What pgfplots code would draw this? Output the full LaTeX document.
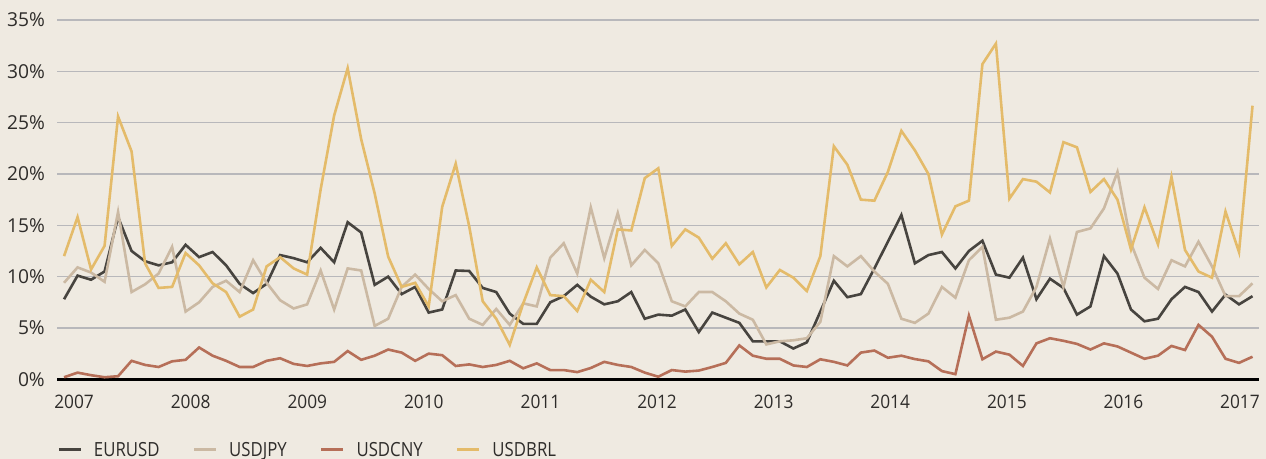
\documentclass[border=0pt]{standalone}
\usepackage{fontspec}
\setmainfont{Open Sans}
\newfontfamily\condfont{Open Sans}[FakeStretch=0.93]
\newfontfamily\legfont{Open Sans}[FakeStretch=0.86]
\usepackage{pgfplots}
\pgfplotsset{compat=1.18}
\usepackage{pgfplotstable}
\definecolor{bgc}{HTML}{EFEAE1}
\definecolor{gridc}{HTML}{B8B8BB}
\definecolor{eurc}{HTML}{47443F}
\definecolor{jpyc}{HTML}{CBB9A3}
\definecolor{cnyc}{HTML}{B66F58}
\definecolor{brlc}{HTML}{E4BB6A}
\definecolor{txtc}{HTML}{2E2C2A}

\pgfplotstableread{
i eur jpy cny brl
0 7.8 9.4 0.2 12.0
1 10.1 10.9 0.65 15.8
2 9.7 10.4 0.4 10.7
3 10.5 9.5 0.2 13.0
4 15.8 16.3 0.3 25.6
5 12.5 8.5 1.8 22.2
6 11.5 9.25 1.4 11.3
7 11.1 10.3 1.2 8.9
8 11.4 12.9 1.75 9.0
9 13.1 6.6 1.9 12.3
10 11.9 7.5 3.1 11.1
11 12.4 9.0 2.3 9.35
12 11.1 9.6 1.8 8.5
13 9.3 8.5 1.2 6.1
14 8.4 11.6 1.2 6.8
15 9.3 9.4 1.8 11.0
16 12.1 7.7 2.05 11.9
17 11.8 6.9 1.5 10.8
18 11.4 7.3 1.3 10.2
19 12.8 10.6 1.55 18.5
20 11.4 6.8 1.7 25.7
21 15.3 10.8 2.75 30.3
22 14.3 10.6 1.9 23.4
23 9.2 5.2 2.3 18.1
24 10.0 5.9 2.9 11.95
25 8.3 9.0 2.6 9.0
26 9.0 10.2 1.8 9.4
27 6.5 8.8 2.5 7.1
28 6.8 7.6 2.35 16.8
29 10.6 8.2 1.3 21.0
30 10.55 5.9 1.45 14.9
31 8.9 5.3 1.2 7.6
32 8.5 6.85 1.4 5.9
33 6.4 5.3 1.8 3.35
34 5.4 7.4 1.07 7.4
35 5.4 7.1 1.55 10.9
36 7.5 11.85 0.9 8.2
37 8.1 13.25 0.9 8.1
38 9.2 10.3 0.7 6.65
39 8.05 16.75 1.1 9.7
40 7.3 11.8 1.7 8.5
41 7.6 16.2 1.4 14.6
42 8.5 11.1 1.2 14.5
43 5.9 12.6 0.65 19.6
44 6.3 11.3 0.25 20.55
45 6.2 7.6 0.9 13.0
46 6.8 7.1 0.75 14.6
47 4.6 8.5 0.85 13.8
48 6.5 8.5 1.2 11.75
49 6.0 7.6 1.6 13.25
50 5.5 6.4 3.3 11.2
51 3.7 5.8 2.3 12.4
52 3.7 3.4 2.0 8.95
53 3.7 3.7 2.0 10.65
54 3.0 3.8 1.35 9.9
55 3.6 4.0 1.2 8.6
56 6.6 5.6 1.95 12.0
57 9.6 12.0 1.7 22.7
58 8.0 11.0 1.35 20.9
59 8.3 12.0 2.6 17.5
60 10.8 10.5 2.8 17.4
61 13.4 9.3 2.1 20.2
62 16.0 5.9 2.3 24.2
63 11.3 5.5 1.97 22.3
64 12.1 6.4 1.75 20.0
65 12.4 9.0 0.8 14.1
66 10.8 7.95 0.5 16.85
67 12.5 11.6 6.2 17.4
68 13.5 12.9 1.95 30.7
69 10.2 5.8 2.7 32.7
70 9.9 6.0 2.4 17.6
71 11.85 6.6 1.3 19.5
72 7.8 9.0 3.5 19.25
73 9.8 13.7 4.0 18.2
74 8.9 9.0 3.75 23.1
75 6.3 14.35 3.45 22.6
76 7.1 14.7 2.9 18.25
77 12.0 16.65 3.5 19.5
78 10.3 20.2 3.2 17.5
79 6.8 13.25 2.6 12.65
80 5.65 9.9 2.0 16.75
81 5.9 8.8 2.3 13.15
82 7.8 11.6 3.25 19.7
83 9.0 11.0 2.85 12.6
84 8.5 13.4 5.3 10.5
85 6.6 11.0 4.15 9.9
86 8.25 8.1 2.0 16.35
87 7.3 8.1 1.6 12.4
88 8.1 9.35 2.2 26.65
}\fxdata

\begin{document}
\begin{tikzpicture}
\fill[bgc] (-57.3bp,-79.7bp) rectangle (1208.7bp,379.3bp);
\begin{axis}[
  at={(0,0)}, anchor=south west,
  scale only axis, width=1202bp, height=359.3bp,
  xmin=-0.5, xmax=88.5, ymin=0, ymax=35,
  axis x line*=bottom, axis y line*=left,
  x axis line style={draw=black, line width=3bp, -},
  y axis line style={draw=none},
  major tick length=0pt,
  ytick={0,5,10,15,20,25,30,35},
  yticklabels={0\%,5\%,10\%,15\%,20\%,25\%,30\%,35\%},
  xtick={0.74,9.37,18.01,26.64,35.27,43.91,52.54,61.17,69.81,78.44,87.07},
  xticklabels={2007,2008,2009,2010,2011,2012,2013,2014,2015,2016,2017},
  ymajorgrids, grid style={draw=gridc, line width=1.4bp},
  yticklabel style={font=\fontsize{19.2bp}{22bp}\selectfont, text=txtc, anchor=east, inner sep=0pt, xshift=-12.3bp},
  xticklabel style={font=\condfont\fontsize{18.6bp}{22bp}\selectfont, text=txtc, anchor=base, inner sep=0pt, yshift=-29bp},
  every axis plot/.append style={line width=2.6bp},
  legend columns=4,
  legend image code/.code={\draw[#1, line width=3bp] (0bp,0bp) -- (22bp,0bp);},
  legend style={at={(0,0)}, anchor=west, yshift=-70.5bp, draw=none, fill=none,
    inner sep=0pt, outer sep=0pt, text=txtc,
    nodes={inner sep=0pt},
    font=\legfont\fontsize{19.5bp}{22bp}\selectfont,
    /tikz/every odd column/.append style={column sep=11.7bp},
    /tikz/every even column/.append style={column sep=33bp}},
]
\addplot[eurc, no markers] table[x=i, y=eur] {\fxdata};
\addlegendentry{EURUSD}
\addplot[jpyc, no markers] table[x=i, y=jpy] {\fxdata};
\addlegendentry{USDJPY}
\addplot[cnyc, no markers] table[x=i, y=cny] {\fxdata};
\addlegendentry{USDCNY}
\addplot[brlc, no markers] table[x=i, y=brl] {\fxdata};
\addlegendentry{USDBRL}
\end{axis}
\pgfresetboundingbox
\path (-57.3bp,-79.7bp) rectangle (1208.7bp,379.3bp);
\end{tikzpicture}
\end{document}
